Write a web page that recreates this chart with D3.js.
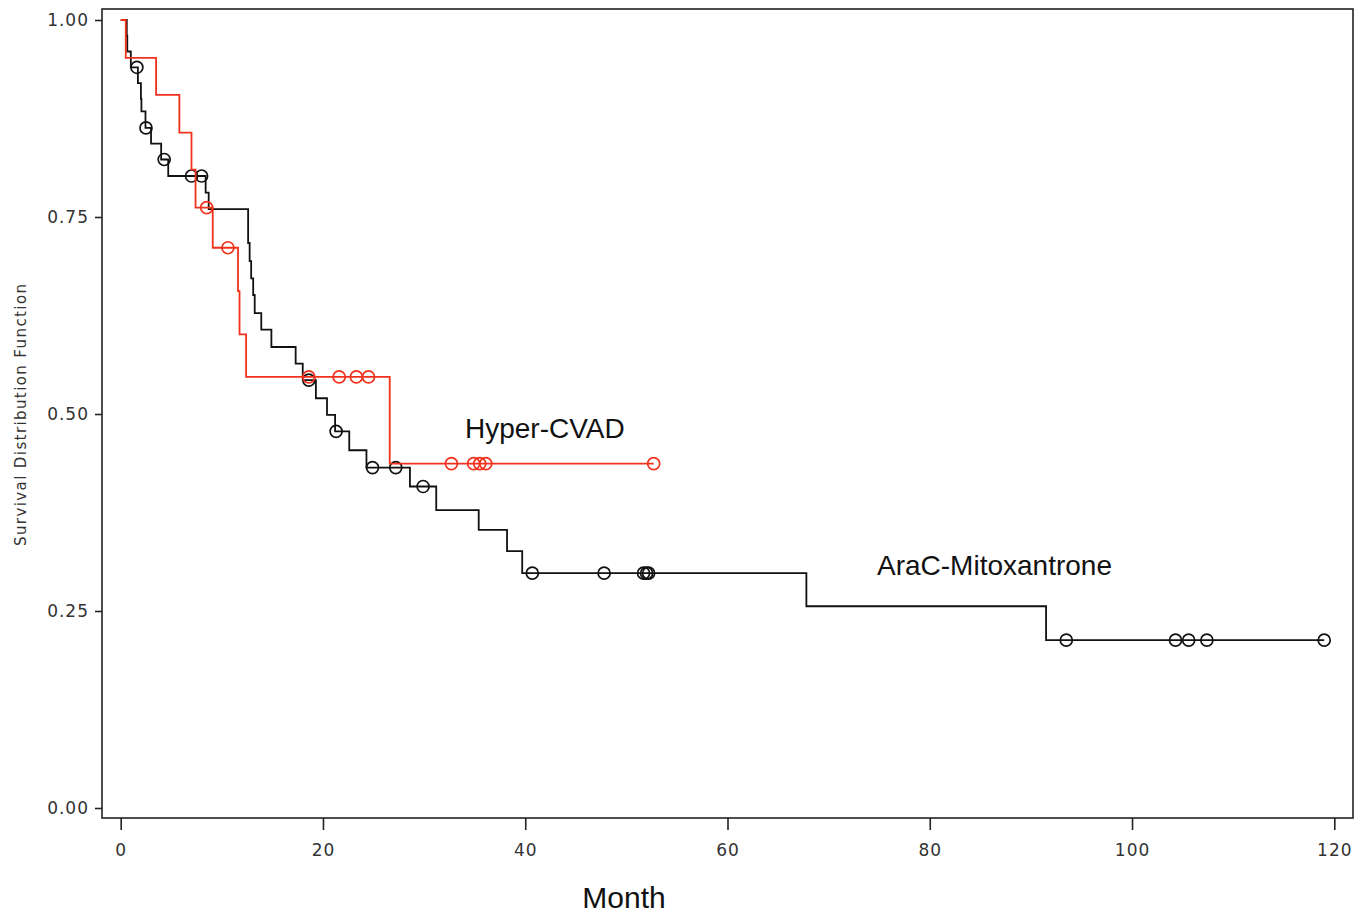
<!DOCTYPE html>
<html>
<head>
<meta charset="utf-8">
<script src="https://cdn.jsdelivr.net/npm/d3@7"></script>
<style>
  body { margin: 0; background: #fff; }
  svg { display: block; }
</style>
</head>
<body>
<svg width="1368" height="915"></svg>
<script>
var svg = d3.select('svg');

// Hyper-CVAD (red)
var hyperTime = [0, 0.5, 3.5, 5.8, 7.0, 7.4, 9.1, 11.6, 11.75, 12.4, 26.6];
var hyperSurv = [1.0, 0.952, 0.905, 0.857, 0.810, 0.762, 0.711, 0.656, 0.601, 0.547, 0.437];
var hyperCensor = [8.5, 10.6, 18.6, 21.6, 23.3, 24.5, 32.7, 34.9, 35.5, 36.1, 52.7];
var hyperEnd = 52.7;

// AraC-Mitoxantrone (black)
var aracTime = [0, 0.6, 0.65, 1.0, 1.7, 2.0, 2.05, 2.45, 3.0, 4.0, 4.7, 8.4, 8.7,
  12.6, 12.75, 12.9, 13.1, 13.25, 13.9, 14.9, 17.3, 18.0, 19.3, 20.4, 21.2, 22.6,
  24.3, 28.6, 31.2, 35.4, 38.2, 39.7, 67.8, 91.5];
var aracSurv = [1.0, 0.980, 0.960, 0.940, 0.920, 0.900, 0.884, 0.863, 0.843, 0.823, 0.802, 0.781, 0.760,
  0.717, 0.694, 0.672, 0.651, 0.628, 0.607, 0.585, 0.564, 0.543, 0.520, 0.499, 0.478, 0.454,
  0.432, 0.408, 0.378, 0.353, 0.326, 0.298, 0.256, 0.213];
var aracCensor = [1.6, 2.5, 4.3, 7.0, 8.0, 18.6, 21.3, 24.9, 27.2, 29.9, 40.7, 47.8,
  51.7, 52.0, 52.2, 93.5, 104.3, 105.6, 107.4, 119.0];
var aracEnd = 119.0;

var xTicks = [0, 20, 40, 60, 80, 100, 120];
var yTicks = [0, 0.25, 0.5, 0.75, 1.0];

var plotLeft = 102, plotRight = 1353, plotTop = 9, plotBottom = 818;

var x = d3.scaleLinear().domain([0, 120]).range([120.7, 1334.3]);
var y = d3.scaleLinear().domain([0, 1]).range([808, 20]);

// frame
svg.append('rect')
  .attr('x', plotLeft).attr('y', plotTop)
  .attr('width', plotRight - plotLeft).attr('height', plotBottom - plotTop)
  .attr('fill', 'none').attr('stroke', '#222').attr('stroke-width', 1.6);

var tickFont = '"DejaVu Sans", sans-serif';

var yAxis = svg.append('g')
  .attr('transform', 'translate(' + plotLeft + ',0)')
  .call(d3.axisLeft(y).tickValues(yTicks).tickSize(7).tickPadding(6).tickFormat(d3.format('.2f')));

var xAxis = svg.append('g')
  .attr('transform', 'translate(0,' + plotBottom + ')')
  .call(d3.axisBottom(x).tickValues(xTicks).tickSize(12).tickPadding(14).tickFormat(d3.format('d')));

[yAxis, xAxis].forEach(function(a) {
  a.select('.domain').remove();
  a.selectAll('line').attr('stroke', '#222').attr('stroke-width', 1.6);
  a.selectAll('text')
    .attr('fill', '#333')
    .style('font-family', tickFont)
    .style('font-size', '17px')
    .style('letter-spacing', '1px');
});

// survival curves
function stepPoints(times, surv, end) {
  var pts = times.map(function(t, i) { return [t, surv[i]]; });
  pts.push([end, surv[surv.length - 1]]);
  return pts;
}

function survAt(times, surv, t) {
  var s = surv[0];
  for (var i = 0; i < times.length; i++) {
    if (times[i] <= t) s = surv[i];
  }
  return s;
}

var line = d3.line()
  .x(function(d) { return x(d[0]); })
  .y(function(d) { return y(d[1]); })
  .curve(d3.curveStepAfter);

var groups = [
  { time: aracTime, surv: aracSurv, censor: aracCensor, end: aracEnd, color: '#111' },
  { time: hyperTime, surv: hyperSurv, censor: hyperCensor, end: hyperEnd, color: '#f2311d' }
];

groups.forEach(function(g) {
  svg.append('path')
    .datum(stepPoints(g.time, g.surv, g.end))
    .attr('d', line)
    .attr('fill', 'none')
    .attr('stroke', g.color)
    .attr('stroke-width', 1.8);

  svg.selectAll(null)
    .data(g.censor)
    .enter()
    .append('circle')
    .attr('cx', function(d) { return x(d); })
    .attr('cy', function(d) { return y(survAt(g.time, g.surv, d)); })
    .attr('r', 6)
    .attr('fill', 'none')
    .attr('stroke', g.color)
    .attr('stroke-width', 1.7);
});

// labels
svg.append('text')
  .attr('x', 465).attr('y', 438)
  .style('font-family', '"Liberation Sans", Arial, sans-serif')
  .style('font-size', '28px')
  .attr('fill', '#111')
  .text('Hyper-CVAD');

svg.append('text')
  .attr('x', 877).attr('y', 575)
  .style('font-family', '"Liberation Sans", Arial, sans-serif')
  .style('font-size', '28px')
  .attr('fill', '#111')
  .text('AraC-Mitoxantrone');

svg.append('text')
  .attr('x', 624).attr('y', 908)
  .attr('text-anchor', 'middle')
  .style('font-family', '"Liberation Sans", Arial, sans-serif')
  .style('font-size', '30px')
  .attr('fill', '#111')
  .text('Month');

svg.append('text')
  .attr('transform', 'translate(26,415) rotate(-90)')
  .attr('text-anchor', 'middle')
  .attr('textLength', 262)
  .attr('lengthAdjust', 'spacing')
  .style('font-family', tickFont)
  .style('font-size', '15px')
  .attr('fill', '#333')
  .text('Survival Distribution Function');
</script>
</body>
</html>
